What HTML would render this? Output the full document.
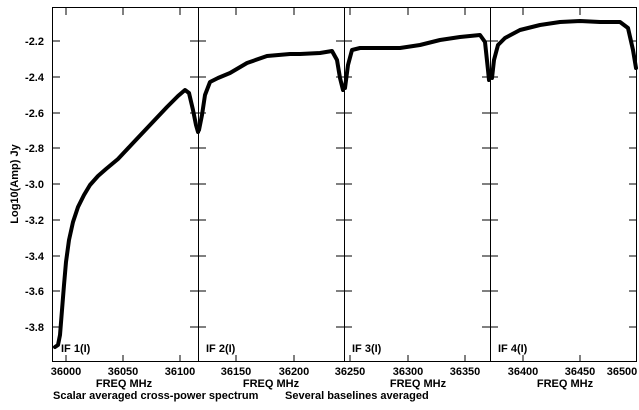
<!DOCTYPE html>
<html><head><style>
body{margin:0;background:#fff}
svg text{font-family:"Liberation Sans",sans-serif;font-size:11px;font-weight:bold;fill:#000}
</style></head><body>
<svg width="639" height="405" viewBox="0 0 639 405" xmlns="http://www.w3.org/2000/svg">
<g stroke="#000" stroke-width="1" fill="none">
<rect x="52.5" y="7.5" width="584" height="354"/>
<line x1="198.5" y1="7" x2="198.5" y2="362"/>
<line x1="344.5" y1="7" x2="344.5" y2="362"/>
<line x1="490.5" y1="7" x2="490.5" y2="362"/>
<path d="M66,8v7M123,8v7M180,8v7M236,8v7M294,8v7M350,8v7M408,8v7M465,8v7M523,8v7M580,8v7M66,362v-7M123,362v-7M180,362v-7M236,362v-7M294,362v-7M350,362v-7M408,362v-7M465,362v-7M523,362v-7M580,362v-7"/>
<path d="M52,41h8M52,77h8M52,113h8M52,148h8M52,184h8M52,220h8M52,256h8M52,291h8M52,327h8
M190,41h16M190,77h16M190,113h16M190,148h16M190,184h16M190,220h16M190,256h16M190,291h16M190,327h16
M336,41h16M336,77h16M336,113h16M336,148h16M336,184h16M336,220h16M336,256h16M336,291h16M336,327h16
M482,41h16M482,77h16M482,113h16M482,148h16M482,184h16M482,220h16M482,256h16M482,291h16M482,327h16
M629,41h8M629,77h8M629,113h8M629,148h8M629,184h8M629,220h8M629,256h8M629,291h8M629,327h8"/>
</g>
<g stroke="#000" stroke-width="4" fill="none" stroke-linejoin="round" stroke-linecap="round">
<path d="M55,347 L58,345 L60,335 L62,310 L64,285 L66,262 L69,240 L73,222 L78,207 L84,195 L90,185 L98,176 L106,169 L118,159 L133,143 L150,125 L167,107 L178,96 L185,90 L189,93 L193,110 L196,125 L198,132"/>
<path d="M199,130 L202,115 L205,95 L210,82 L218,78 L230,73 L247,63 L267,56 L290,54 L300,54 L320,53 L332,51 L337,60 L340,78 L343,90"/>
<path d="M345,88 L348,65 L352,50 L360,48 L380,48 L400,48 L420,45 L440,40 L460,37 L480,35 L485,42 L488,70 L489,80"/>
<path d="M492,78 L494,60 L498,45 L505,38 L520,30 L540,25 L560,22 L580,21 L600,22 L620,22 L628,28 L633,50 L636,68"/>
</g>
<g text-anchor="end">
<text x="44" y="45">-2.2</text><text x="44" y="81">-2.4</text><text x="44" y="117">-2.6</text><text x="44" y="152">-2.8</text><text x="44" y="188">-3.0</text><text x="44" y="224">-3.2</text><text x="44" y="260">-3.4</text><text x="44" y="295">-3.6</text><text x="44" y="331">-3.8</text>
</g>
<g text-anchor="middle">
<text x="66" y="375">36000</text><text x="123" y="375">36050</text><text x="180" y="375">36100</text><text x="236" y="375">36150</text><text x="294" y="375">36200</text><text x="350" y="375">36250</text><text x="408" y="375">36300</text><text x="465" y="375">36350</text><text x="523" y="375">36400</text><text x="580" y="375">36450</text><text x="622" y="375">36500</text>
<text x="124" y="387">FREQ MHz</text><text x="271" y="387">FREQ MHz</text><text x="418" y="387">FREQ MHz</text><text x="565" y="387">FREQ MHz</text>
</g>
<text x="53" y="399">Scalar averaged cross-power spectrum</text>
<text x="285" y="399">Several baselines averaged</text>
<text x="61" y="352">IF 1(I)</text><text x="206" y="352">IF 2(I)</text><text x="352" y="352">IF 3(I)</text><text x="498" y="352">IF 4(I)</text>
<text transform="translate(18,184) rotate(-90)" text-anchor="middle">Log10(Amp) Jy</text>
</svg>
</body></html>
